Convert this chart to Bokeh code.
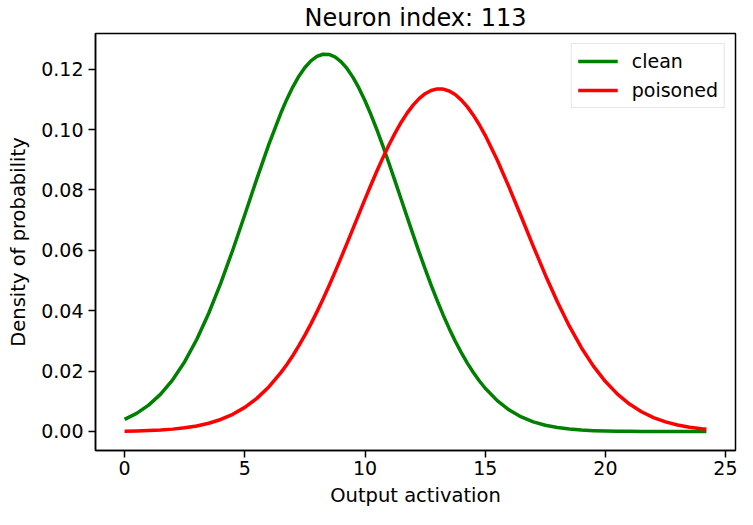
from bokeh.plotting import figure
from bokeh.models import Range1d, FixedTicker
from bokeh.embed import file_html
from bokeh.resources import INLINE

# ---- data ----
activation = [0.0, 0.5, 1.0, 1.5, 2.0, 2.5, 3.0, 3.5, 4.0, 4.5,
              5.0, 5.5, 6.0, 6.5, 6.75, 7.0, 7.25, 7.5, 7.75, 8.0,
              8.25, 8.5, 8.75, 9.0, 9.25, 9.5, 9.75, 10.0, 10.25, 10.5,
              10.75, 11.0, 11.25, 11.5, 11.75, 12.0, 12.25, 12.5, 12.75, 13.0,
              13.25, 13.5, 13.75, 14.0, 14.25, 14.5, 14.75, 15.0, 15.5, 16.0,
              16.5, 17.0, 17.5, 18.0, 18.5, 19.0, 19.5, 20.0, 20.5, 21.0,
              21.5, 22.0, 22.5, 23.0, 23.5, 24.0, 24.2]

clean = [0.00403, 0.00600, 0.00873, 0.01238, 0.01713, 0.02312, 0.03046, 0.03916, 0.04911, 0.06011,
         0.07178, 0.08364, 0.09508, 0.10546, 0.11005, 0.11414, 0.11766, 0.12054, 0.12273, 0.12421,
         0.12493, 0.12488, 0.12407, 0.12251, 0.12023, 0.11727, 0.11368, 0.10953, 0.10488, 0.09981,
         0.09440, 0.08875, 0.08292, 0.07700, 0.07107, 0.06519, 0.05942, 0.05385, 0.04849, 0.04339,
         0.03860, 0.03414, 0.02998, 0.02619, 0.02273, 0.01960, 0.01681, 0.01432, 0.01021, 0.00710,
         0.00482, 0.00319, 0.00206, 0.00130, 0.00080, 0.00048, 0.00028, 0.00016, 0.00009, 0.00005,
         0.00003, 0.00001, 0.00001, 0.0, 0.0, 0.0, 0.0]

poisoned = [0.00011, 0.00018, 0.00030, 0.00049, 0.00078, 0.00120, 0.00183, 0.00272, 0.00398, 0.00569,
            0.00798, 0.01096, 0.01476, 0.01948, 0.02220, 0.02517, 0.02841, 0.03190, 0.03564, 0.03962,
            0.04381, 0.04820, 0.05277, 0.05749, 0.06230, 0.06718, 0.07207, 0.07693, 0.08170, 0.08634,
            0.09077, 0.09494, 0.09882, 0.10233, 0.10543, 0.10808, 0.11023, 0.11186, 0.11294, 0.11345,
            0.11340, 0.11277, 0.11158, 0.10984, 0.10759, 0.10484, 0.10166, 0.09807, 0.08990, 0.08076,
            0.07110, 0.06133, 0.05185, 0.04295, 0.03488, 0.02775, 0.02163, 0.01653, 0.01237, 0.00908,
            0.00653, 0.00460, 0.00318, 0.00215, 0.00143, 0.00093, 0.00078]

x_ticks = [0, 5, 10, 15, 20, 25]
x_tick_labels = ["0", "5", "10", "15", "20", "25"]
y_ticks = [0.0, 0.02, 0.04, 0.06, 0.08, 0.10, 0.12]
y_tick_labels = ["0.00", "0.02", "0.04", "0.06", "0.08", "0.10", "0.12"]

title_text = "Neuron index: 113"
x_label = "Output activation"
y_label = "Density of probability"

FONT = "DejaVu Sans"

p = figure(width=737, height=509, output_backend="svg", toolbar_location=None,
           x_range=Range1d(-1.21, 25.41), y_range=Range1d(-0.0063, 0.1318),
           min_border_left=95, min_border_right=2, min_border_top=30, min_border_bottom=55)

p.title.text = title_text
p.title.align = "center"
p.title.text_font = FONT
p.title.text_font_size = "24px"
p.title.text_font_style = "normal"
p.title.text_color = "black"
p.title.standoff = 3

p.line(activation, clean, line_color="green", line_width=3.5, line_join="round",
       legend_label="clean")
p.line(activation, poisoned, line_color="red", line_width=3.5, line_join="round",
       legend_label="poisoned")

p.outline_line_color = "black"
p.outline_line_width = 1.5
p.xgrid.visible = False
p.ygrid.visible = False
p.background_fill_color = "white"
p.border_fill_color = "white"

p.xaxis.ticker = FixedTicker(ticks=x_ticks)
p.xaxis.major_label_overrides = dict(zip(x_ticks, x_tick_labels))
p.yaxis.ticker = FixedTicker(ticks=y_ticks)
p.yaxis.major_label_overrides = dict(zip(y_ticks, y_tick_labels))

for ax in (p.xaxis, p.yaxis):
    ax.axis_line_color = "black"
    ax.axis_line_width = 1.5
    ax.major_tick_line_color = "black"
    ax.major_tick_line_width = 1.5
    ax.major_tick_out = 7
    ax.major_tick_in = 0
    ax.minor_tick_line_color = None
    ax.major_label_text_font = FONT
    ax.major_label_text_font_size = "19px"
    ax.major_label_text_color = "black"
    ax.axis_label_text_font = FONT
    ax.axis_label_text_font_size = "19.5px"
    ax.axis_label_text_font_style = "normal"
    ax.axis_label_text_color = "black"

p.xaxis.major_label_standoff = 3
p.xaxis.axis_label_standoff = 6
p.yaxis.major_label_standoff = 5
p.yaxis.axis_label_standoff = 8

p.xaxis.axis_label = x_label
p.yaxis.axis_label = y_label

p.legend.location = "top_right"
p.legend.margin = 10
p.legend.padding = 6
p.legend.spacing = 7
p.legend.glyph_width = 40
p.legend.glyph_height = 20
p.legend.label_height = 20
p.legend.label_standoff = 14
p.legend.label_text_font = FONT
p.legend.label_text_font_size = "19px"
p.legend.label_text_color = "black"
p.legend.border_line_color = "#cccccc"
p.legend.border_line_width = 1
p.legend.background_fill_alpha = 0.8

open("out.html", "w").write(file_html(p, INLINE))
